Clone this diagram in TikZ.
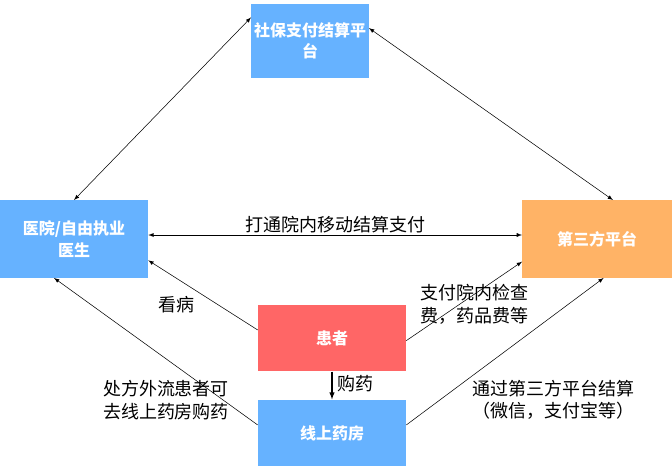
\documentclass[tikz,border=0pt]{standalone}
\usepackage{fontspec}
\setmainfont{Noto Sans CJK SC}
\usetikzlibrary{positioning}
\definecolor{boxblue}{HTML}{66B2FF}
\definecolor{boxorange}{HTML}{FFB366}
\definecolor{boxred}{HTML}{FF6666}
\tikzset{
  platform/.style={fill=#1, draw=none, text=white, font=\bfseries\fontsize{12}{16}\selectfont, align=center, inner sep=2pt},
  link/.style={-latex, thin},
  twoway/.style={latex-latex, thin},
  lbl/.style={font=\fontsize{13.5}{17}\selectfont, align=center, inner sep=1pt}
}
\begin{document}
\begin{tikzpicture}[x=0.75pt,y=-0.75pt]
\useasboundingbox (0,0) rectangle (672,468);
\node[platform=boxblue, minimum width=78pt, minimum height=55pt] (ss) at (310,41) {社保支付结算平\\台};
\node[platform=boxblue, minimum width=111pt, minimum height=58pt] (hosp) at (74,239) {医院/自由执业\\医生};
\node[platform=boxorange, minimum width=112pt, minimum height=58pt] (third) at (597,239) {第三方平台};
\node[platform=boxred, minimum width=111pt, minimum height=50pt] (pat) at (332,338) {患者};
\node[platform=boxblue, minimum width=111pt, minimum height=50pt] (pharm) at (332,433) {线上药房};

\draw[twoway] ([yshift=-10pt]ss.north west) -- (hosp.north);
\draw[twoway] ([yshift=-18pt]ss.north east) -- ([xshift=12pt]third.north);
\draw[twoway] ([yshift=3pt]hosp.east) -- node[lbl, above]{打通院内移动结算支付} ([yshift=3pt]third.east -| third.west);
\draw[link] ([yshift=6pt]pat.west) -- ([yshift=-16pt]hosp.east);
\draw[link] ([yshift=-2pt]pat.east) -- ([yshift=-17pt]third.west);
\draw[-latex, thick] (pat.south) -- (pharm.north);
\draw[link] ([yshift=6pt]pharm.west) -- ([xshift=-15pt]hosp.south);
\draw[link] ([yshift=6pt]pharm.east) -- ([xshift=5pt]third.south);
\node[lbl] (see) at (176,305) {看病};
\node[lbl] (pay) at (474,304) {支付院内检查\\费，药品费等};
\node[lbl] (buy) at (355,384) {购药};
\node[lbl] (rx) at (166,400) {处方外流患者可\\去线上药房购药};
\node[lbl] (via) at (553,400) {通过第三方平台结算\\（微信，支付宝等）};
\end{tikzpicture}
\end{document}
